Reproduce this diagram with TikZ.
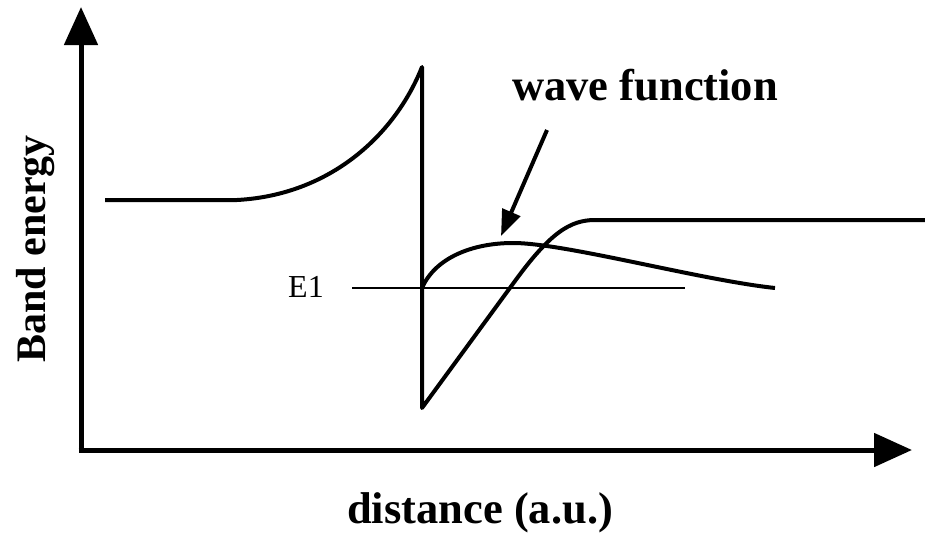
\documentclass[tikz,border=0pt]{standalone}
\usepackage{fontspec}
\setmainfont{Liberation Serif}
\usetikzlibrary{arrows.meta}

\begin{document}
\begin{tikzpicture}[x=1pt, y=-1pt, line join=round,
	axis/.style={line width=5pt, -{Triangle[length=38pt, width=33pt]}},
	band/.style={line width=4pt},
	level/.style={line width=1.3pt},
	lbl/.style={inner sep=0pt, font=\fontsize{44.5}{50}\selectfont\bfseries}]
	\useasboundingbox (0,0) rectangle (925,533);
	% axes
	\coordinate (o) at (81,450);
	\coordinate (ytip) at (81,7);
	\coordinate (xtip) at (912,450);
	\draw[axis] (o) -- (ytip);
	\draw[axis] ([xshift=-2.5pt]o) -- (xtip);
	% band edge
	\coordinate (l0) at (105,200);
	\coordinate (l1) at (237,200);
	\coordinate (peak) at (422,67);
	\coordinate (dip) at (422,408);
	\coordinate (r0) at (515,281);
	\coordinate (r1) at (595,220);
	\coordinate (r2) at (925,220);
	\draw[band] (l0) -- (l1) .. controls (330,195) and (395,135) .. (peak) -- (dip) -- (r0) .. controls (550,233) and (570,220) .. (r1) -- (r2);
	% level and wave function
	\coordinate (e0) at (352,288);
	\coordinate (e1) at (685,288);
	\draw[level] (e0) -- (e1);
	\node[inner sep=0pt, anchor=base west, font=\fontsize{32}{36}\selectfont] (elbl) at (288,297) {E1};
	\coordinate (w0) at (422,288);
	\coordinate (wmax) at (513,243);
	\coordinate (w1) at (775,288);
	\draw[band] (w0) .. controls (435,258) and (472,243) .. (wmax) .. controls (565,243) and (700,280) .. (w1);
	% labels
	\node[lbl, anchor=base west] (wave) at (512,100) {wave function};
	\coordinate (wtail) at (547,130);
	\coordinate (whead) at (501,236);
	\draw[line width=4pt, -{Triangle[length=26pt, width=19pt]}] (wtail) -- (whead);
	\node[lbl, anchor=base west] (xlbl) at (347,523) {distance (a.u.)};
	\node[lbl, anchor=base west, rotate=90, font=\fontsize{42}{48}\selectfont\bfseries] (ylbl) at (45,363) {Band energy};
\end{tikzpicture}
\end{document}
